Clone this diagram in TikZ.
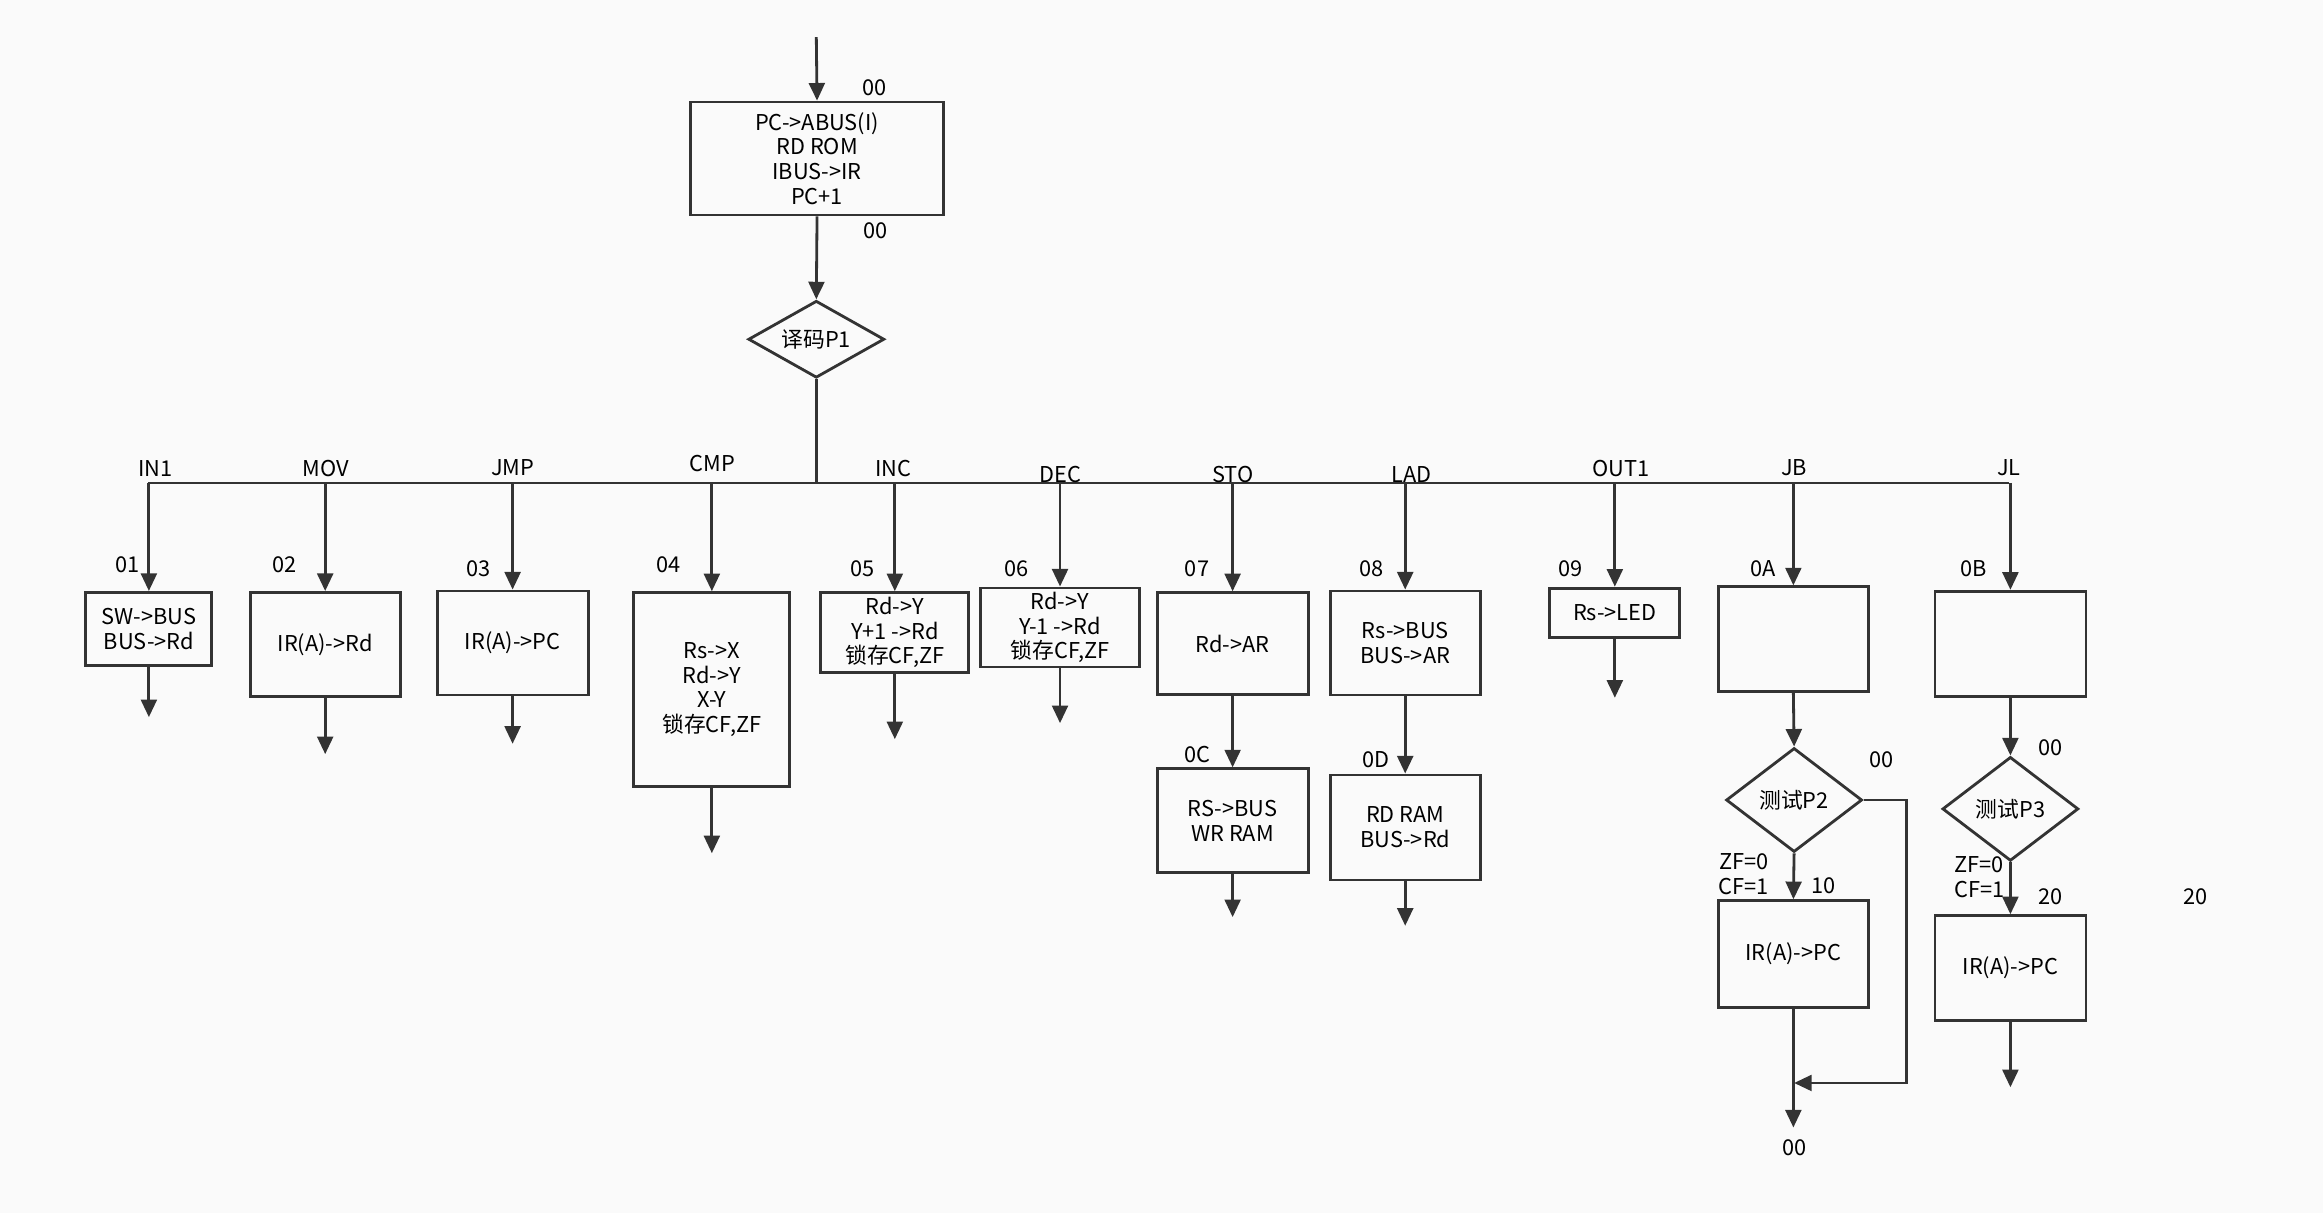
\documentclass[tikz,border=0pt]{standalone}
\usepackage{fontspec}
\setmainfont{Noto Sans CJK SC}
\usetikzlibrary{shapes.geometric,arrows.meta}
\begin{document}
\begin{tikzpicture}[x=0.014815cm,y=-0.014815cm,line width=0.8pt,draw=black!80,
font=\fontsize{6.2}{7}\selectfont,>={Triangle[length=5pt,width=4.5pt]},
box/.style={draw,rectangle,align=center,inner sep=1pt},
dec/.style={draw,diamond,aspect=1.7,inner sep=0pt,minimum width=1.36cm,minimum height=0.77cm},
lbl/.style={inner sep=0pt}]

\fill[black!2] (0,0) rectangle (1568,819);
\useasboundingbox (0,0) rectangle (1568,819);

\coordinate (top) at (551,25);
\coordinate (bus) at (0,326);
\node[box,minimum width=2.53cm,minimum height=1.13cm] (b00) at (551.5,107) {PC->ABUS(I)\\RD ROM\\IBUS->IR\\PC+1};
\node[dec] (P1) at (551,229) {译码P1};
\draw[->] (top) -- (b00.north);
\draw[->] (b00.south) -- (P1.north);
\draw (P1.south) -- (P1.south |- bus);
\draw (100,326) -- (1356,326);
\node[lbl] at (590,59) {00};
\node[lbl] at (591,156) {00};

% branches
\node[box,minimum width=1.26cm,minimum height=0.73cm] (b01) at (100.5,424.5) {SW->BUS\\BUS->Rd};
\node[box,minimum width=1.50cm,minimum height=1.04cm] (b02) at (219.5,435) {IR(A)->Rd};
\node[box,minimum width=1.51cm,minimum height=1.04cm] (b03) at (346,434) {IR(A)->PC};
\node[box,minimum width=1.56cm,minimum height=1.94cm] (b04) at (480.5,465.5) {Rs->X\\Rd->Y\\X-Y\\锁存CF,ZF};
\node[box,minimum width=1.48cm,minimum height=0.80cm] (b05) at (604,427) {Rd->Y\\Y+1 ->Rd\\锁存CF,ZF};
\node[box,minimum width=1.59cm,minimum height=0.79cm] (b06) at (715.5,423.5) {Rd->Y\\Y-1 ->Rd\\锁存CF,ZF};
\node[box,minimum width=1.51cm,minimum height=1.02cm] (b07) at (832,434.5) {Rd->AR};
\node[box,minimum width=1.51cm,minimum height=1.04cm] (b0C) at (832,554) {RS->BUS\\WR RAM};
\node[box,minimum width=1.50cm,minimum height=1.04cm] (b08) at (948.5,434) {Rs->BUS\\BUS->AR};
\node[box,minimum width=1.50cm,minimum height=1.05cm] (b0D) at (948.5,558.5) {RD RAM\\BUS->Rd};
\node[box,minimum width=1.30cm,minimum height=0.49cm] (b09) at (1090,413.5) {Rs->LED};
\node[box,minimum width=1.50cm,minimum height=1.05cm] (b0A) at (1210.5,431.5) {};
\node[dec,minimum height=1.04cm] (P2) at (1211,540) {测试P2};
\node[box,minimum width=1.50cm,minimum height=1.07cm] (b10) at (1210.5,644) {IR(A)->PC};
\node[box,minimum width=1.51cm,minimum height=1.05cm] (b0B) at (1357,434.5) {};
\node[dec,minimum height=1.04cm] (P3) at (1357,546) {测试P3};
\node[box,minimum width=1.51cm,minimum height=1.05cm] (b20) at (1357,653.5) {IR(A)->PC};

\foreach \b in {01,02,03,04,05,06,07,08,09,0A,0B}
  \draw[->] (b\b.north |- bus) -- (b\b.north);

% opcode and address labels
\node[lbl] at (105,316) {IN1};
\node[lbl] at (220,316) {MOV};
\node[lbl] at (346,316) {JMP};
\node[lbl] at (481,313) {CMP};
\node[lbl] at (603,316) {INC};
\node[lbl] at (716,320) {DEC};
\node[lbl] at (832,320) {STO};
\node[lbl] at (953,320) {LAD};
\node[lbl] at (1094,316) {OUT1};
\node[lbl] at (1211,316) {JB};
\node[lbl] at (1356,316) {JL};
\node[lbl] at (86,381) {01};
\node[lbl] at (192,381) {02};
\node[lbl] at (323,384) {03};
\node[lbl] at (451,381) {04};
\node[lbl] at (582,384) {05};
\node[lbl] at (686,384) {06};
\node[lbl] at (808,384) {07};
\node[lbl] at (926,384) {08};
\node[lbl] at (1060,384) {09};
\node[lbl] at (1190,384) {0A};
\node[lbl] at (1332,384) {0B};
\node[lbl] at (808,509) {0C};
\node[lbl] at (929,513) {0D};
\node[lbl] at (1270,513) {00};
\node[lbl] at (1384,505) {00};
\node[lbl,align=center] at (1177,590) {ZF=0\\CF=1};
\node[lbl,align=center] at (1336,592) {ZF=0\\CF=1};
\node[lbl] at (1231,598) {10};
\node[lbl] at (1384,605) {20};
\node[lbl] at (1482,605) {20};
\node[lbl] at (1211,775) {00};

% exits
\draw[->] (b01.south) -- ++(0,34);
\draw[->] (b02.south) -- ++(0,38);
\draw[->] (b03.south) -- ++(0,32);
\draw[->] (b04.south) -- ++(0,44);
\draw[->] (b05.south) -- ++(0,44);
\draw[->] (b06.south) -- ++(0,37);
\draw[->] (b07.south) -- (b0C.north);
\draw[->] (b0C.south) -- ++(0,29);
\draw[->] (b08.south) -- (b0D.north);
\draw[->] (b0D.south) -- ++(0,30);
\draw[->] (b09.south) -- ++(0,40);
\draw[->] (b0A.south) -- (P2.north);
\draw[->] (P2.south) -- (b10.north);
\draw[->] (b10.south) -- ++(0,80);
\draw[->] (P2.east) -- ++(29,0) |- (1211,731);
\draw[->] (b0B.south) -- (P3.north);
\draw[->] (P3.south) -- (b20.north);
\draw[->] (b20.south) -- ++(0,44);
\end{tikzpicture}
\end{document}
